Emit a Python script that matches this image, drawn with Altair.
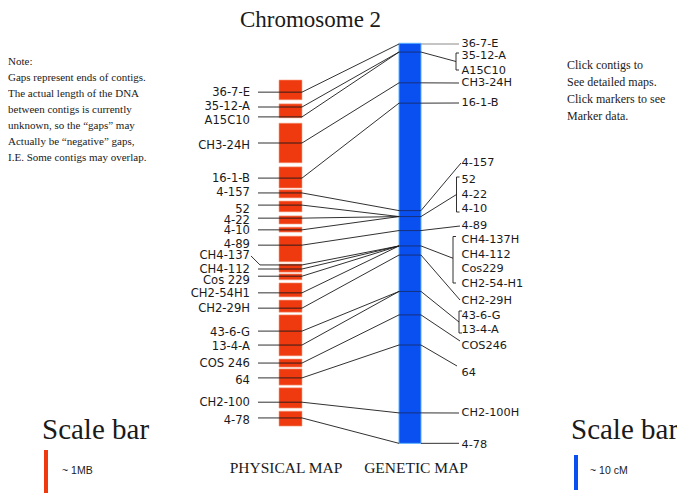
import altair as alt
import pandas as pd

# ---------------- data ----------------
# Physical map: contig extents (Mb from top of chromosome arm)
CONTIG_START_MB = [0.00, 0.53, 0.96, 1.93, 2.44, 2.69, 3.02, 3.27, 3.47, 4.09, 4.31, 4.51, 4.89, 5.22, 6.20, 6.42, 6.84, 7.36]
CONTIG_END_MB   = [0.44, 0.84, 1.84, 2.40, 2.62, 2.93, 3.20, 3.38, 4.04, 4.27, 4.44, 4.82, 5.16, 6.13, 6.38, 6.78, 7.29, 7.69]

# Physical-map markers (name, position in Mb)
PHYS_MARKERS = ["36-7-E", "35-12-A", "A15C10", "CH3-24H", "16-1-B", "4-157", "52", "4-22", "4-10", "4-89",
                "CH4-137", "CH4-112", "Cos 229", "CH2-54H1", "CH2-29H", "43-6-G", "13-4-A", "COS 246", "64",
                "CH2-100", "4-78"]
PHYS_MB = [0.27, 0.60, 0.82, 1.40, 2.18, 2.51, 2.78, 3.07, 3.33, 3.67,
           4.11, 4.20, 4.36, 4.73, 5.07, 5.58, 5.89, 6.29, 6.62,
           7.16, 7.51]
# genetic position (cM) each physical marker links to
LINK_CM = [0.2, 2.5, 2.5, 11.3, 17.1, 47.8, 49.5, 49.5, 49.5, 53.5,
           57.9, 57.9, 57.9, 57.9, 60.5, 70.9, 70.9, 77.6, 86.2,
           105.6, 114.3]

# Genetic map
GEN_LENGTH_CM = 114.3
GEN_GROUPS = [["36-7-E"], ["35-12-A", "A15C10"], ["CH3-24H"], ["16-1-B"], ["4-157"],
              ["52", "4-22", "4-10"], ["4-89"], ["CH4-137H", "CH4-112", "Cos229", "CH2-54-H1"],
              ["CH2-29H"], ["43-6-G", "13-4-A"], ["COS246"], ["64"], ["CH2-100H"], ["4-78"]]
GEN_CM = [0.2, 2.5, 11.3, 17.1, 47.8, 49.5, 53.5, 57.9, 60.5, 70.9, 77.6, 86.2, 105.6, 114.3]

SCALE_MB = 1
SCALE_CM = 10

TITLE = "Chromosome 2"
NOTE_LEFT = ["Note:", "Gaps represent ends of contigs.", "The actual length of the DNA",
             "between contigs is currently", "unknown, so the \u201cgaps\u201d may",
             "Actually be \u201cnegative\u201d gaps,", "I.E. Some contigs may overlap."]
NOTE_RIGHT = ["Click contigs to", "See detailed maps.", "Click markers to see", "Marker data."]

# ---------------- layout (display units) ----------------
PHYS_TOP, PX_PER_MB = 80.0, 45.0
GEN_TOP, PX_PER_CM = 43.3, 3.5
RED_X0, RED_X1 = 279, 302
BLUE_X0, BLUE_X1 = 399, 421
LEFT_TICK_X = 258
LEFT_LABEL_X = 250
RIGHT_LABEL_X = 461.5
LEFT_LABEL_NUDGE = {"36-7-E": 0.8, "A15C10": 4, "CH3-24H": 3, "16-1-B": 0.5, "52": 4.5, "4-22": 2.5,
                    "4-10": 0.7, "CH4-137": -9, "CH4-112": 1, "Cos 229": 5, "CH2-54H1": 1.2,
                    "CH2-29H": 1, "43-6-G": 2, "13-4-A": 2, "COS 246": 1, "64": 2.6, "CH2-100": 0.3,
                    "4-78": 3.5}
# right side: label centres and bracket x for each group (display units)
RIGHT_LABEL_Y = [[44], [56, 71], [83], [103], [163], [180, 194.5, 209], [225.5],
                 [240, 254.5, 269, 284], [301], [316, 330], [346], [373], [413], [445]]
RIGHT_LINE_END = [(459, 44), None, (459, 83), (459, 103), (461, 163), None, (460, 226),
                  None, (460, 300), None, (460, 341), (457, 366), (459, 413), (459, 443.3)]
BRACKET = [None, (456, 53, 70), None, None, None, (456.5, 177, 212), None,
           (453, 236.5, 283), None, (459, 311, 333), None, None, None, None]

def py(mb):
    return PHYS_TOP + mb * PX_PER_MB

def gy(cm):
    return GEN_TOP + cm * PX_PER_CM

XS = alt.Scale(domain=[8, 677], nice=False, zero=False)
YS = alt.Scale(domain=[8, 493], nice=False, zero=False, reverse=True)

def X(f="x"):
    return alt.X(f, type="quantitative", scale=XS, axis=None)

def Y(f="y"):
    return alt.Y(f, type="quantitative", scale=YS, axis=None)

RED = "#EF3A10"
BLUE = "#0A50F0"
INK = "#1a1a1a"

layers = []

# red contigs
contigs = pd.DataFrame({"x": RED_X0, "x2": RED_X1,
                        "y": [py(v) for v in CONTIG_START_MB],
                        "y2": [py(v) for v in CONTIG_END_MB]})
layers.append(alt.Chart(contigs).mark_rect(color=RED, stroke="#F7A07E", strokeWidth=0.6).encode(
    x=X(), x2="x2", y=Y(), y2="y2"))

# blue genetic map
blue = pd.DataFrame({"x": [BLUE_X0], "x2": [BLUE_X1], "y": [gy(0)], "y2": [gy(GEN_LENGTH_CM)]})
layers.append(alt.Chart(blue).mark_rect(color=BLUE, stroke="#5AB0FF", strokeWidth=1).encode(
    x=X(), x2="x2", y=Y(), y2="y2"))

# connecting lines
segs = []
for name, mb, cm in zip(PHYS_MARKERS, PHYS_MB, LINK_CM):
    yp = py(mb)
    if name == "CH4-137":
        ly = yp + LEFT_LABEL_NUDGE[name]
        segs.append((LEFT_LABEL_X + 1, ly, 260, yp))
        segs.append((260, yp, RED_X1, yp))
    else:
        segs.append((LEFT_TICK_X, yp, RED_X1, yp))
    segs.append((RED_X1, yp, BLUE_X0, gy(cm)))
for i, cm in enumerate(GEN_CM):
    y0 = gy(cm)
    if RIGHT_LINE_END[i] is not None:
        ex, ey = RIGHT_LINE_END[i]
        if i == 0:
            continue
        segs.append((BLUE_X1, y0, ex, ey))
    else:
        bx, b0, b1 = BRACKET[i]
        segs.append((BLUE_X1, y0, bx, (b0 + b1) / 2 + (0 if i != 7 else -1.5)))
        segs.append((bx, b0, bx, b1))
        segs.append((bx, b0, bx + 3, b0))
        segs.append((bx, b1, bx + 3, b1))
segdf = pd.DataFrame(segs, columns=["x", "y", "x2", "y2"])
layers.append(alt.Chart(segdf).mark_rule(color=INK, strokeWidth=0.9).encode(
    x=X(), y=Y(), x2="x2", y2="y2"))

# top right grey line
top = pd.DataFrame({"x": [BLUE_X1], "y": [gy(GEN_CM[0])], "x2": [RIGHT_LINE_END[0][0]], "y2": [RIGHT_LINE_END[0][1]]})
layers.append(alt.Chart(top).mark_rule(color="#8a8a8a", strokeWidth=1).encode(
    x=X(), y=Y(), x2="x2", y2="y2"))

# cross lines on blue bar
cross = pd.DataFrame({"x": BLUE_X0, "x2": BLUE_X1, "y": [gy(c) for c in GEN_CM[1:-1]]})
layers.append(alt.Chart(cross).mark_rule(color="#16307c", strokeWidth=1).encode(
    x=X(), x2="x2", y=Y()))

# left labels
left = pd.DataFrame({"x": LEFT_LABEL_X, "text": PHYS_MARKERS,
                     "y": [py(m) + LEFT_LABEL_NUDGE.get(n, 0) for n, m in zip(PHYS_MARKERS, PHYS_MB)]})
layers.append(alt.Chart(left).mark_text(align="right", baseline="middle", font="DejaVu Sans",
                                        fontSize=11.6, color=INK).encode(x=X(), y=Y(), text="text:N"))

# right labels
rl = []
for names, ys in zip(GEN_GROUPS, RIGHT_LABEL_Y):
    for n, yv in zip(names, ys):
        rl.append((RIGHT_LABEL_X, yv, n))
rdf = pd.DataFrame(rl, columns=["x", "y", "text"])
layers.append(alt.Chart(rdf).mark_text(align="left", baseline="middle", font="DejaVu Sans",
                                       fontSize=11.3, color=INK).encode(x=X(), y=Y(), text="text:N"))

def text_layer(xs, ys, texts, size, font="Liberation Serif", align="left", color=INK):
    df = pd.DataFrame({"x": xs, "y": ys, "text": texts})
    return alt.Chart(df).mark_text(align=align, baseline="middle", font=font, fontSize=size,
                                   color=color).encode(x=X(), y=Y(), text="text:N")

layers.append(text_layer([310.5], [20], [TITLE], 23, align="center"))
layers.append(text_layer([8] * len(NOTE_LEFT), [62 + 16 * i for i in range(len(NOTE_LEFT))], NOTE_LEFT, 11))
layers.append(text_layer([567] * len(NOTE_RIGHT), [65 + 17 * i for i in range(len(NOTE_RIGHT))], NOTE_RIGHT, 12))
layers.append(text_layer([42, 571], [430, 430], ["Scale bar", "Scale bar"], 29))
layers.append(text_layer([286, 416], [468, 468], ["PHYSICAL MAP", "GENETIC MAP"], 15.5, align="center"))
layers.append(text_layer([62, 590], [471, 471], ["~ 1MB", "~ 10 cM"], 10.5, font="Liberation Sans"))

# scale bars
sb = pd.DataFrame({"x": [44, 574], "x2": [48, 578],
                   "y": [450, 455], "y2": [450 + SCALE_MB * PX_PER_MB, 455 + SCALE_CM * PX_PER_CM],
                   "c": ["phys", "gen"]})
layers.append(alt.Chart(sb).mark_rect().encode(
    x=X(), x2="x2", y=Y(), y2="y2",
    color=alt.Color("c:N", scale=alt.Scale(domain=["phys", "gen"], range=[RED, BLUE]), legend=None)))

chart = alt.layer(*layers).properties(width=669, height=485, padding=0, autosize="none").configure_view(stroke=None)
chart.save("out.html", embed_options={"renderer": "svg", "actions": False})
